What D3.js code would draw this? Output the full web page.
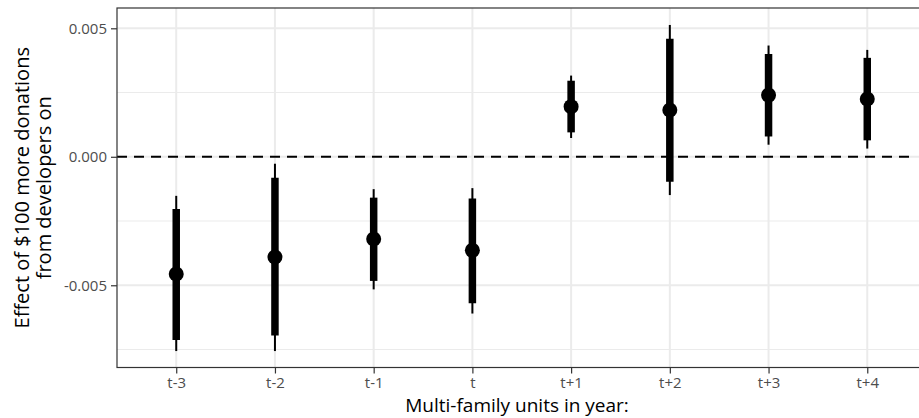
<!DOCTYPE html>
<html>
<head>
<meta charset="utf-8">
<script src="https://cdn.jsdelivr.net/npm/d3@7"></script>
<style>
  body { margin: 0; background: #fff; }
  text { font-family: "Open Sans", sans-serif; }
</style>
</head>
<body>
<svg id="chart" width="919" height="418"></svg>
<script>
// data
var periods   = ['t-3', 't-2', 't-1', 't', 't+1', 't+2', 't+3', 't+4'];
var estimate  = [-0.00456, -0.0039, -0.0032, -0.00364, 0.00195, 0.00182, 0.0024, 0.00225];
var inner_lo  = [-0.00713, -0.00695, -0.00483, -0.0057, 0.00095, -0.00097, 0.00079, 0.00064];
var inner_hi  = [-0.00203, -0.00082, -0.00159, -0.00162, 0.00296, 0.00459, 0.0040, 0.00385];
var outer_lo  = [-0.00756, -0.00756, -0.00516, -0.0061, 0.00073, -0.00149, 0.00047, 0.00032];
var outer_hi  = [-0.00152, -0.00027, -0.00126, -0.00122, 0.00316, 0.00513, 0.00433, 0.00416];
var y_ticks   = [-0.005, 0, 0.005];
var y_minor   = [-0.0075, -0.0025, 0.0025];

var svg = d3.select('#chart');

// panel runs past the right edge of the window, as in the original
var panel = { left: 117, top: 8, right: 926.5, bottom: 367.5 };

var x = d3.scalePoint().domain(periods)
  .range([panel.left, panel.right]).padding(0.6);
var y = d3.scaleLinear().domain([-0.0082, 0.00579])
  .range([panel.bottom, panel.top]);

var grid = svg.append('g');
grid.selectAll('line.minor').data(y_minor).enter().append('line')
  .attr('class', 'minor')
  .attr('x1', panel.left).attr('x2', panel.right)
  .attr('y1', function(d){ return y(d); }).attr('y2', function(d){ return y(d); })
  .style('stroke', '#ebebeb').style('stroke-width', 1);
grid.selectAll('line.major').data(y_ticks).enter().append('line')
  .attr('class', 'major')
  .attr('x1', panel.left).attr('x2', panel.right)
  .attr('y1', function(d){ return y(d); }).attr('y2', function(d){ return y(d); })
  .style('stroke', '#ebebeb').style('stroke-width', 2);
grid.selectAll('line.xmajor').data(periods).enter().append('line')
  .attr('class', 'xmajor')
  .attr('y1', panel.top).attr('y2', panel.bottom)
  .attr('x1', function(d){ return x(d); }).attr('x2', function(d){ return x(d); })
  .style('stroke', '#ebebeb').style('stroke-width', 2);

// zero reference line
svg.append('line')
  .attr('x1', panel.left).attr('x2', 913)
  .attr('y1', y(0)).attr('y2', y(0))
  .style('stroke', '#000').style('stroke-width', 2)
  .style('stroke-dasharray', '10,7');

// intervals and points
var marks = svg.append('g');
periods.forEach(function(p, i){
  marks.append('line')
    .attr('x1', x(p)).attr('x2', x(p))
    .attr('y1', y(outer_lo[i])).attr('y2', y(outer_hi[i]))
    .style('stroke', '#000').style('stroke-width', 2);
  marks.append('line')
    .attr('x1', x(p)).attr('x2', x(p))
    .attr('y1', y(inner_lo[i])).attr('y2', y(inner_hi[i]))
    .style('stroke', '#000').style('stroke-width', 7.5);
  marks.append('circle')
    .attr('cx', x(p)).attr('cy', y(estimate[i])).attr('r', 7.5)
    .style('fill', '#000');
});

// panel border (top + left visible)
svg.append('rect')
  .attr('x', panel.left).attr('y', panel.top)
  .attr('width', panel.right - panel.left).attr('height', panel.bottom - panel.top)
  .style('fill', 'none').style('stroke', '#333').style('stroke-width', 1.2);

// axes
var fmt = d3.format('.3f');
var yAxis = svg.append('g').attr('transform', 'translate(' + panel.left + ',0)')
  .call(d3.axisLeft(y).tickValues(y_ticks).tickSize(6).tickPadding(4)
    .tickFormat(function(d){ return d < 0 ? '-' + fmt(-d) : fmt(d); }));
var xAxis = svg.append('g').attr('transform', 'translate(0,' + panel.bottom + ')')
  .call(d3.axisBottom(x).tickSize(6).tickPadding(4));

[yAxis, xAxis].forEach(function(ax){
  ax.select('.domain').remove();
  ax.selectAll('.tick line').style('stroke', '#333').style('stroke-width', 1.2);
  ax.selectAll('.tick text').style('fill', '#4d4d4d')
    .style('font-size', '15px').style('font-family', '"Open Sans", sans-serif');
});

// axis titles
svg.append('text')
  .attr('x', 517).attr('y', 412)
  .attr('text-anchor', 'middle')
  .style('font-size', '19px').style('fill', '#000')
  .text('Multi-family units in year:');

var ytitle = svg.append('text')
  .attr('transform', 'translate(0,' + ((panel.top + panel.bottom) / 2) + ') rotate(-90)')
  .attr('text-anchor', 'middle')
  .style('font-size', '20px').style('fill', '#000');
ytitle.append('tspan').attr('x', 0).attr('y', 29).text('Effect of $100 more donations');
ytitle.append('tspan').attr('x', 0).attr('y', 51).text('from developers on');
</script>
</body>
</html>
